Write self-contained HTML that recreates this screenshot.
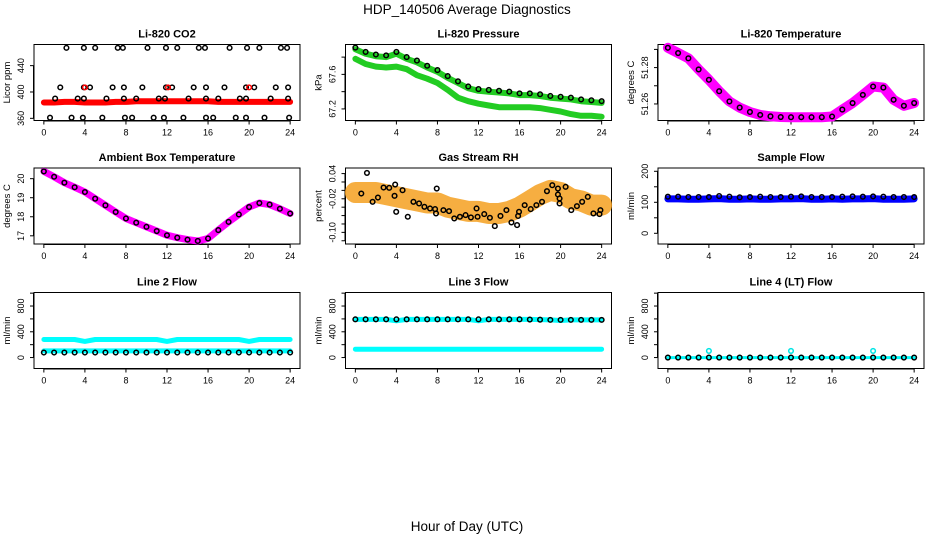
<!DOCTYPE html>
<html><head><meta charset="utf-8">
<style>
html,body{margin:0;padding:0;background:#fff;}
svg{display:block;font-family:"Liberation Sans",sans-serif;}
</style></head>
<body>
<svg id="c" width="936" height="540" viewBox="0 0 936 540" xmlns="http://www.w3.org/2000/svg">
<text x="467" y="14" font-size="13.5" text-anchor="middle">HDP_140506  Average Diagnostics</text>
<text x="467" y="531" font-size="13.5" text-anchor="middle">Hour of Day (UTC)</text>
</svg>
<script>
// ---- data ----
const hours = [0,1,2,3,4,5,6,7,8,9,10,11,12,13,14,15,16,17,18,19,20,21,22,23,24];
const xTicks = [0,4,8,12,16,20,24];

const co2Red = [384,384,385,385,384,384,384,385,385,386,386,386,386,386,386,386,386,385,385,385,385,385,385,385,385];
const co2TopTimes = [2.2,3.9,5.0,7.2,7.7,10.1,11.9,13.0,15.1,15.7,18.1,19.8,21.0,23.1,23.7];
const co2TopVal = 467;
const co2MidTimes = [1.6,3.9,4.5,6.7,7.8,9.6,11.9,12.5,14.6,15.8,17.6,19.7,20.5,22.6,23.8];
const co2MidVal = 407;
const co2LowTimes = [1.1,3.3,3.9,6.1,7.8,9.0,11.2,11.8,14.1,15.8,17.0,19.1,19.7,22.1,23.8];
const co2LowVal = 390;
const co2BotTimes = [0.6,2.7,3.8,5.7,7.9,8.6,10.7,11.7,13.6,15.8,16.5,18.7,19.7,21.5,23.9];
const co2BotVal = 361;
const co2RedTimes = [4.0,12.1,20.0];
const co2Ticks = [360,400,440];

const presBlack = [67.91,67.86,67.83,67.82,67.86,67.80,67.76,67.70,67.65,67.58,67.52,67.46,67.43,67.42,67.41,67.40,67.38,67.38,67.37,67.35,67.34,67.33,67.31,67.30,67.29];
const presGreenHi = [67.89,67.84,67.81,67.80,67.84,67.78,67.74,67.68,67.63,67.56,67.50,67.44,67.41,67.40,67.39,67.38,67.36,67.36,67.35,67.33,67.32,67.31,67.29,67.28,67.27];
const presGreenLo = [67.78,67.72,67.69,67.68,67.69,67.66,67.59,67.55,67.50,67.42,67.33,67.29,67.26,67.24,67.22,67.22,67.22,67.22,67.21,67.19,67.17,67.14,67.12,67.12,67.11];
const presTicks = [67.2,67.4,67.6,67.8];
const presLabels = ["67.2","","67.6",""];

const tempMag = [51.2909,51.288,51.2851,51.279,51.2733,51.267,51.2614,51.258,51.2556,51.254,51.2532,51.2528,51.2527,51.2527,51.2527,51.2527,51.2531,51.2569,51.2605,51.265,51.2696,51.269,51.2623,51.259,51.2605];
const tempTicks = [51.26,51.27,51.28,51.29];
const tempLabels = ["51.26","","51.28",""];

const ambVals = [20.38,20.1,19.79,19.55,19.30,18.95,18.60,18.25,17.91,17.69,17.47,17.25,17.03,16.90,16.80,16.73,16.86,17.3,17.73,18.12,18.51,18.72,18.64,18.42,18.17];
const ambTicks = [17,18,19,20];

const rhMean = [-0.005,-0.005,-0.005,-0.01,-0.015,-0.02,-0.025,-0.03,-0.03,-0.04,-0.045,-0.05,-0.05,-0.055,-0.055,-0.05,-0.04,-0.025,-0.01,0.0,-0.005,-0.02,-0.025,-0.035,-0.035];
const rhTimes = [1.13,0.58,1.68,2.20,2.75,3.30,3.88,3.82,3.98,4.60,5.11,5.66,6.21,6.73,7.28,7.77,7.86,7.93,8.58,9.13,9.64,10.19,10.74,11.26,11.81,11.91,12.56,13.11,13.59,14.14,14.72,15.21,15.76,15.86,15.95,16.50,17.09,17.64,18.19,18.67,19.19,19.74,19.74,19.90,19.90,20.49,21.04,21.59,22.10,22.65,23.20,23.79,23.88];
const rhVals = [0.0416,-0.0075,-0.0272,-0.017,0.0068,0.006,0.0139,-0.013,-0.051,0.0004,-0.0628,-0.0272,-0.0312,-0.0391,-0.0431,-0.0446,-0.0549,0.0044,-0.047,-0.0494,-0.0668,-0.0628,-0.0589,-0.0644,-0.0431,-0.0628,-0.0565,-0.0652,-0.085,-0.0609,-0.047,-0.0763,-0.0826,-0.0609,-0.051,-0.0351,-0.0446,-0.0351,-0.0272,-0.0019,0.0123,0.0044,-0.0098,-0.0193,-0.0312,0.0084,-0.047,-0.0375,-0.0272,-0.0154,-0.0549,-0.0565,-0.047];
const rhTicks = [-0.12,-0.10,-0.08,-0.06,-0.04,-0.02,0.00,0.02,0.04];
const rhLabels = ["","-0.10","","","","-0.02","","","0.04"];

const sfBlue = [111,111,110,110,111,112,110,110,111,110,110,111,111,112,110,110,111,110,111,111,112,110,110,110,111];
const sfBlack = [118,118,117,117,117,120,118,116,117,118,117,117,118,119,117,117,117,118,119,118,119,118,117,117,117];
const sfTicks = [0,50,100,150,200];
const sfLabels = ["0","","100","","200"];

const flowTicks = [0,200,400,600,800,1000];
const flowLabels = ["0","","400","","800",""];
const l2CyanHi = [281,281,281,281,250,281,281,281,281,281,281,281,250,281,281,281,281,281,281,281,250,281,281,281,281];
const l2CyanLo = [103,103,103,103,103,103,103,103,103,103,103,103,103,103,103,103,103,103,103,103,103,103,103,103,103];
const l2Black = [78,78,78,78,78,78,78,78,78,78,78,78,78,78,78,78,78,78,78,78,78,78,78,78,78];
const l3CyanHi = [593,593,593,593,570,593,593,593,593,593,593,593,570,593,593,593,593,593,590,585,575,585,585,585,585];
const l3Black = [593,593,593,593,593,593,593,593,593,593,593,593,593,593,593,593,593,590,588,585,585,585,585,585,585];
const l3CyanLo = [130,130,130,130,130,130,130,130,130,130,130,130,130,130,130,130,130,130,130,130,130,130,130,130,130];
const l4Black = [0,0,0,0,0,0,0,0,0,0,0,0,0,0,0,0,0,0,0,0,0,0,0,0,0];
const l4CyanTimes = [4,12,20];
const l4CyanVals = [103,103,103];

// ---- drawing ----
const NS = "http://www.w3.org/2000/svg";
const svg = document.getElementById('c');
function mk(tag, attrs, parent){
  const e = document.createElementNS(NS, tag);
  for (const k in attrs) e.setAttribute(k, attrs[k]);
  (parent||svg).appendChild(e);
  return e;
}
const colL = [34, 345.5, 658], rowT = [44.5, 168, 292.5], PW = 266, PH = 76;

function panel(col,row,title,ylab,ylim,yt,ylabels,name){
  const L = colL[col], T = rowT[row];
  const g = mk('g', {});
  
  
  const sx = h => L + (h + 0.96) / 25.92 * PW;
  const sy = v => T + PH - (v - ylim[0]) / (ylim[1] - ylim[0]) * PH;
  const box = mk('rect', {x:L, y:T, width:PW, height:PH, fill:'none', stroke:'#000', 'stroke-width':1}, g);
  
  
  const t = mk('text', {x:L+PW/2, y:T-7, 'font-size':11, 'font-weight':'bold', 'text-anchor':'middle'}, g);
  t.textContent = title;
  
  
  const yb = T + PH;
  mk('line', {x1:sx(0), x2:sx(24), y1:yb+0.5, y2:yb+0.5, stroke:'#000'}, g);
  xTicks.forEach(h => {
    mk('line', {x1:sx(h), x2:sx(h), y1:yb, y2:yb+4, stroke:'#000'}, g);
    const lt = mk('text', {x:sx(h), y:yb+15, 'font-size':9, 'text-anchor':'middle'}, g);
    lt.textContent = h;
    
    
  });
  mk('line', {x1:L-0.5, x2:L-0.5, y1:sy(yt[0]), y2:sy(yt[yt.length-1]), stroke:'#000'}, g);
  yt.forEach((v,i) => {
    mk('line', {x1:L-4, x2:L, y1:sy(v), y2:sy(v), stroke:'#000'}, g);
    const lab = ylabels ? ylabels[i] : String(v);
    if (lab) {
      const tx = L - 10, ty = sy(v);
      const yl = mk('text', {x:tx, y:ty, 'font-size':9, 'text-anchor':'middle', transform:`rotate(-90 ${tx} ${ty})`}, g);
      yl.textContent = lab;
      
      
    }
  });
  const ax = L - 24, ay = T + PH/2;
  const yt2 = mk('text', {x:ax, y:ay, 'font-size':9.5, 'text-anchor':'middle', transform:`rotate(-90 ${ax} ${ay})`}, g);
  yt2.textContent = ylab;
  
  
  return {sx, sy, g};
}
function band(p, xs, ys, color, w, nm, op){
  const pts = xs.map((h,i) => p.sx(h).toFixed(1) + ',' + p.sy(ys[i]).toFixed(1)).join(' ');
  const e = mk('polyline', {points:pts, fill:'none', stroke:color, 'stroke-width':w, 'stroke-linejoin':'round', 'stroke-linecap':'round', opacity:op||1}, p.g);
  
  
}
function circles(p, xs, ys, color, nm, r){
  xs.forEach((h,i) => {
    const e = mk('circle', {cx:p.sx(h), cy:p.sy(ys[i]), r:r||2.3, fill:'none', stroke:color, 'stroke-width':1.5}, p.g);
    
    
  });
}
function rep(arr, v){ return arr.map(() => v); }

// Panel 1: CO2
let p = panel(0,0,'Li-820 CO2','Licor ppm',[356.7,472.1],co2Ticks,null,'co2-panel');
band(p, hours, co2Red, '#ff0000', 6, 'co2-red-series');
circles(p, co2TopTimes, rep(co2TopTimes, co2TopVal), '#000', 'co2-point');
circles(p, co2MidTimes, rep(co2MidTimes, co2MidVal), '#000', 'co2-point');
circles(p, co2LowTimes, rep(co2LowTimes, co2LowVal), '#000', 'co2-point');
circles(p, co2BotTimes, rep(co2BotTimes, co2BotVal), '#000', 'co2-point');
circles(p, co2RedTimes, rep(co2RedTimes, co2MidVal), '#ff0000', 'co2-red-point');

// Panel 2: Pressure
p = panel(1,0,'Li-820 Pressure','kPa',[67.066,67.946],presTicks,presLabels,'pressure-panel');
band(p, hours, presGreenLo, '#22cc22', 6, 'pressure-green-low');
band(p, hours, presGreenHi, '#22cc22', 6, 'pressure-green-high');
circles(p, hours, presBlack, '#000', 'pressure-point');

// Panel 3: Temperature
p = panel(2,0,'Li-820 Temperature','degrees C',[51.2509,51.2927],tempTicks,tempLabels,'li820-temp-panel');
band(p, hours, tempMag, '#ff00ff', 10, 'li820-temp-band');
circles(p, hours, tempMag, '#000', 'li820-temp-point');

// Panel 4: Ambient
p = panel(0,1,'Ambient Box Temperature','degrees C',[16.57,20.56],ambTicks,null,'ambient-temp-panel');
band(p, hours, ambVals, '#ff00ff', 7, 'ambient-temp-band');
circles(p, hours, ambVals, '#000', 'ambient-temp-point');

// Panel 5: RH
p = panel(1,1,'Gas Stream RH','percent',[-0.1277,0.0533],rhTicks,rhLabels,'rh-panel');
band(p, hours, rhMean, '#f4a020', 21, 'rh-orange-cloud', 0.85);
circles(p, rhTimes, rhVals, '#000', 'rh-point');

// Panel 6: Sample Flow
p = panel(2,1,'Sample Flow','ml/min',[-34.5,210.6],sfTicks,sfLabels,'sample-flow-panel');
band(p, hours, sfBlue, '#0000ff', 7, 'sample-flow-blue');
circles(p, hours, sfBlack, '#000', 'sample-flow-point');

// Panel 7: Line 2
p = panel(0,2,'Line 2 Flow','ml/min',[-170,1010],flowTicks,flowLabels,'line2-flow-panel');
band(p, hours, l2CyanHi, '#00ffff', 5, 'line2-cyan-high');
band(p, hours, l2CyanLo, '#00ffff', 5, 'line2-cyan-low');
circles(p, hours, l2Black, '#000', 'line2-point');

// Panel 8: Line 3
p = panel(1,2,'Line 3 Flow','ml/min',[-170,1010],flowTicks,flowLabels,'line3-flow-panel');
band(p, hours, l3CyanHi, '#00ffff', 5, 'line3-cyan-high');
band(p, hours, l3CyanLo, '#00ffff', 5, 'line3-cyan-low');
circles(p, hours, l3Black, '#000', 'line3-point');

// Panel 9: Line 4
p = panel(2,2,'Line 4 (LT) Flow','ml/min',[-170,1010],flowTicks,flowLabels,'line4-flow-panel');
band(p, hours, l4Black, '#00ffff', 3, 'line4-cyan-base');
circles(p, hours, l4Black, '#000', 'line4-point');
circles(p, l4CyanTimes, l4CyanVals, '#00e5e5', 'line4-cyan-point');
</script>
</body></html>
